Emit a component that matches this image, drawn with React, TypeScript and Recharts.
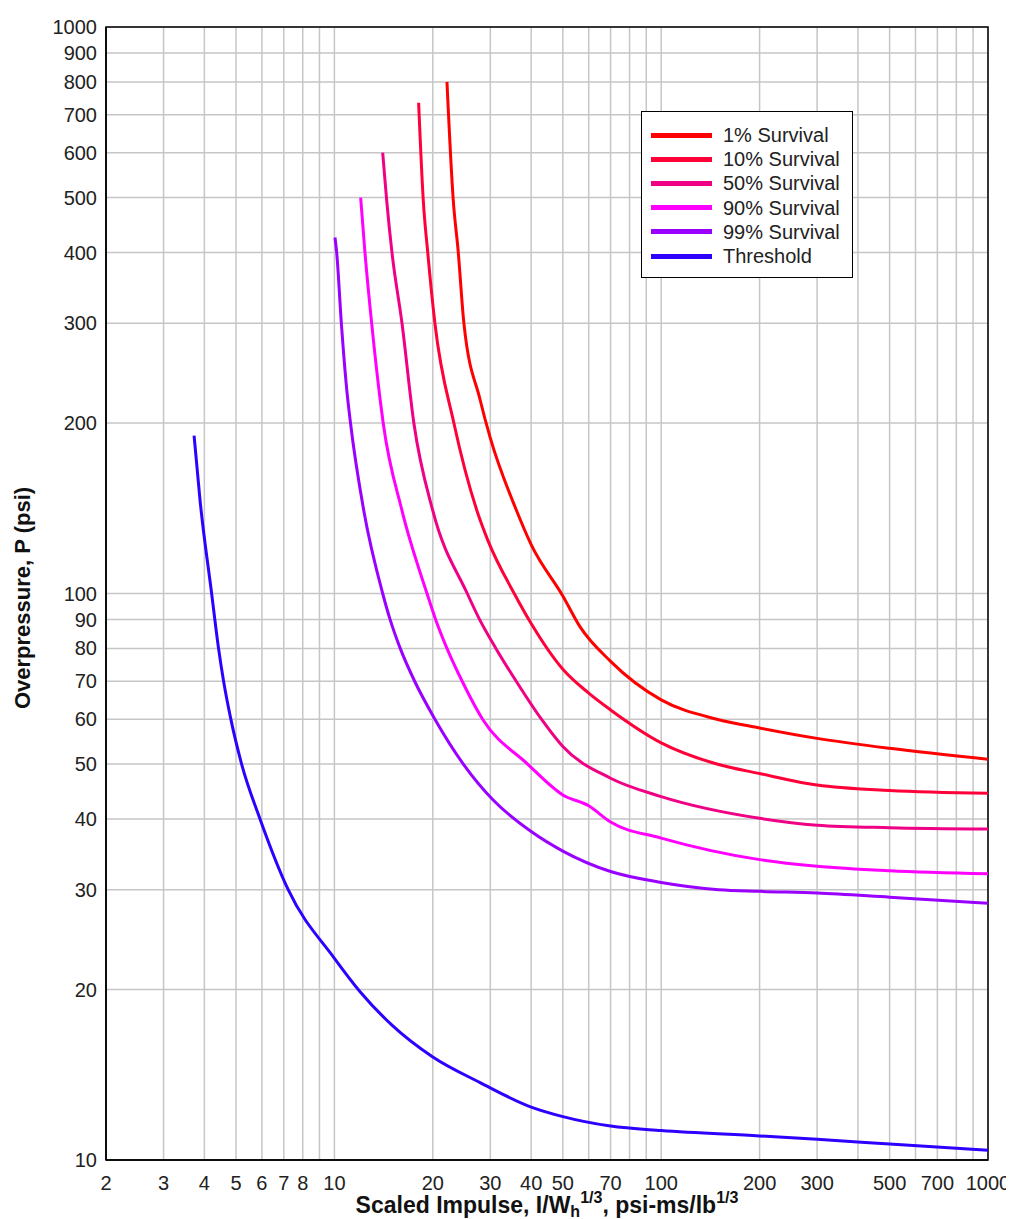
import React from 'react';
import { LineChart, Line, XAxis, YAxis, CartesianGrid, ReferenceArea, Label } from 'recharts';

const FONT = '"Liberation Sans", Arial, Helvetica, sans-serif';

const xTicks = [2, 3, 4, 5, 6, 7, 8, 9, 10, 20, 30, 40, 50, 60, 70, 80, 90, 100, 200, 300, 400, 500, 600, 700, 800, 900, 1000];
const xLabeled = [2, 3, 4, 5, 6, 7, 8, 10, 20, 30, 40, 50, 70, 100, 200, 300, 500, 700, 1000];
const yTicks = [10, 20, 30, 40, 50, 60, 70, 80, 90, 100, 200, 300, 400, 500, 600, 700, 800, 900, 1000];

// Scaled impulse (x) and overpressure (p) for each curve
const s1X = [22.1, 23.1, 23.9, 24.9, 27.9, 30, 36.1, 40, 50, 56.4, 70, 100, 148, 200, 300, 500, 1000];
const s1P = [800, 495, 404, 300, 220, 188, 140, 122, 99, 87.4, 75.9, 64.9, 60, 57.9, 55.5, 53.3, 51];

const s10X = [18.1, 18.7, 19.3, 20.3, 23.2, 27.3, 29.5, 35.5, 40, 50, 60, 70, 100, 148, 200, 300, 500, 1000];
const s10P = [735, 495, 400, 300, 200, 140, 124, 100, 88.5, 73.5, 66.7, 62.3, 54.5, 50, 48.1, 45.9, 44.9, 44.4];

const s50X = [14.05, 14.45, 15, 16.1, 17.5, 20, 25.5, 27.8, 31.2, 36, 43, 50, 70, 100, 200, 300, 500, 1000];
const s50P = [600, 495, 400, 300, 200, 140, 100, 90, 80, 70, 60, 53.7, 47.2, 43.8, 40.1, 39, 38.6, 38.4];

const s90X = [12.03, 12.4, 13, 13.8, 14.1, 16.1, 19.2, 20.4, 22.1, 24.6, 28.4, 39, 50, 60, 70, 100, 200, 300, 500, 1000];
const s90P = [500, 400, 300, 220, 200, 140, 100, 90, 80, 70, 60, 50, 44.1, 42.2, 39.5, 37, 33.9, 33, 32.4, 32];

const s99X = [10.04, 10.16, 10.5, 10.9, 11.2, 12.3, 14.05, 14.8, 15.9, 17.6, 20.3, 24.8, 30.6, 40, 50, 70, 100, 150, 200, 300, 500, 1000];
const s99P = [425, 400, 300, 230, 200, 140, 100, 90, 80, 70, 60, 50, 43.2, 38, 35.1, 32.3, 30.9, 30, 29.8, 29.6, 29.1, 28.4];

const thX = [3.72, 3.88, 4.21, 4.42, 4.58, 4.82, 5.2, 5.92, 7.22, 10, 12, 15, 20, 27.9, 40, 50, 70, 100, 200, 300, 500, 1000];
const thP = [190, 146, 100, 80, 70, 60, 50, 40, 30, 22.7, 19.8, 17.3, 15.2, 13.7, 12.4, 11.93, 11.48, 11.27, 11.03, 10.88, 10.67, 10.4];

const seriesNames = ['1% Survival', '10% Survival', '50% Survival', '90% Survival', '99% Survival', 'Threshold'];
const seriesColors = ['#FF0000', '#FF0038', '#F00084', '#FF00FF', '#9A00FF', '#2E00FF'];
const seriesX = [s1X, s10X, s50X, s90X, s99X, thX];
const seriesP = [s1P, s10P, s50P, s90P, s99P, thP];

const seriesData = seriesX.map((xs, i) => xs.map((x, j) => ({ x, p: seriesP[i][j] })));

const LegendBox = () => (
  <div
    style={{
      position: 'absolute',
      left: 633,
      top: 103,
      border: '1.5px solid #000',
      background: '#fff',
      width: 212,
      boxSizing: 'border-box',
      padding: '11px 0 9px 0',
      fontFamily: FONT,
    }}
  >
    {seriesNames.map((name, i) => (
      <div key={name} style={{ display: 'flex', alignItems: 'center', height: 24.2 }}>
        <div style={{ marginLeft: 9, width: 61, height: 5, background: seriesColors[i] }} />
        <span style={{ marginLeft: 11, fontSize: 20, color: '#222', lineHeight: '24px', whiteSpace: 'nowrap' }}>{name}</span>
      </div>
    ))}
  </div>
);

const XTitle = (props: any) => {
  const vb = props.viewBox || { x: 98, y: 1152, width: 882, height: 59 };
  const cx = vb.x + vb.width / 2;
  const y = vb.y + 53;
  return (
    <text x={cx} y={y} textAnchor="middle" fontFamily={FONT} fontWeight="bold" fontSize={23} fill="#111">
      <tspan>Scaled Impulse, I/W</tspan>
      <tspan fontSize={16} dy={4}>h</tspan>
      <tspan fontSize={16} dy={-14}>1/3</tspan>
      <tspan fontSize={23} dy={10}>, psi-ms/lb</tspan>
      <tspan fontSize={16} dy={-10}>1/3</tspan>
    </text>
  );
};

const YTitle = () => {
  const cx = 14;
  const cy = 590;
  return (
    <text
      x={cx}
      y={cy}
      textAnchor="middle"
      dominantBaseline="central"
      transform={`rotate(-90, ${cx}, ${cy})`}
      fontFamily={FONT}
      fontWeight="bold"
      fontSize={22}
      fill="#111"
    >
      Overpressure, P (psi)
    </text>
  );
};

export default function App() {
  return (
    <div style={{ width: 1006, height: 1211, position: 'relative', background: '#fff' }}>
      <LineChart width={1006} height={1211} margin={{ top: 19, right: 26, bottom: 0, left: 0 }}>
        <CartesianGrid stroke="#c6c6c6" strokeWidth={1.5} />
        <XAxis
          type="number"
          dataKey="x"
          scale="log"
          domain={[2, 1000]}
          ticks={xTicks}
          interval={0}
          allowDataOverflow
          height={59}
          tickLine={false}
          tickMargin={10}
          axisLine={{ stroke: '#000', strokeWidth: 1.5 }}
          tick={{ fontFamily: FONT, fontSize: 20, fill: '#222' }}
          tickFormatter={(v: number) => (xLabeled.includes(v) ? String(v) : '')}
        >
          <Label content={<XTitle />} />
        </XAxis>
        <YAxis
          type="number"
          dataKey="p"
          scale="log"
          domain={[10, 1000]}
          ticks={yTicks}
          interval={0}
          allowDataOverflow
          width={98}
          tickLine={false}
          tickMargin={3}
          axisLine={{ stroke: '#000', strokeWidth: 1.5 }}
          tick={{ fontFamily: FONT, fontSize: 20, fill: '#222' }}
        >
          <Label content={<YTitle />} />
        </YAxis>
        <ReferenceArea x1={2} x2={1000} y1={10} y2={1000} fill="none" stroke="#000" strokeWidth={1.5} ifOverflow="visible" />
        {seriesData.map((d, i) => (
          <Line
            key={seriesNames[i]}
            data={d}
            dataKey="p"
            name={seriesNames[i]}
            type="monotone"
            stroke={seriesColors[i]}
            strokeWidth={3}
            dot={false}
            activeDot={false}
            isAnimationActive={false}
          />
        ))}
      </LineChart>
      <LegendBox />
    </div>
  );
}
